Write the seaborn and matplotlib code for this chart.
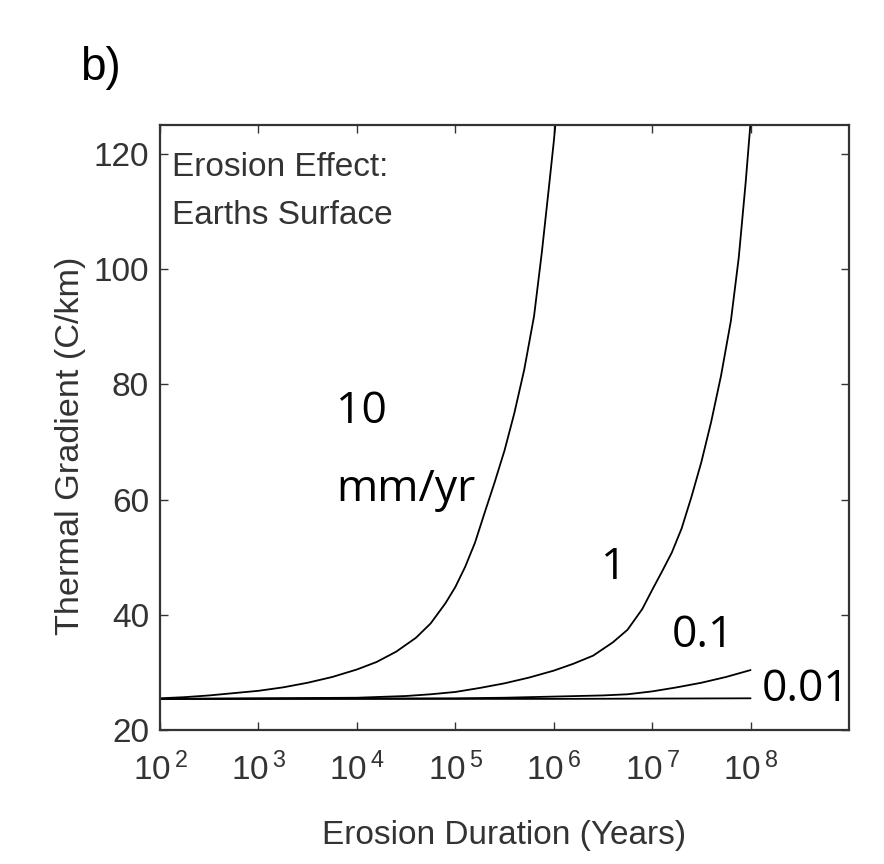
import numpy as np
import pandas as pd
import matplotlib
matplotlib.use("Agg")
import matplotlib.pyplot as plt
import seaborn as sns

# Erosion duration (log10 years) and thermal gradient (C/km) for each erosion rate
rate_10_logt = [2.0, 2.25, 2.5, 2.75, 3.0, 3.25, 3.5, 3.75, 4.0, 4.2, 4.4, 4.6, 4.75,
                4.9, 5.0, 5.1, 5.2, 5.3, 5.4, 5.5, 5.6, 5.7, 5.8, 5.88, 5.95, 6.0, 6.05]
rate_10_grad = [25.5, 25.7, 26.0, 26.4, 26.8, 27.4, 28.2, 29.2, 30.5, 31.8, 33.6, 36.0, 38.5,
                42.0, 44.8, 48.3, 52.5, 57.8, 63.0, 68.5, 75.0, 82.5, 91.8, 103.0, 114.0, 122.0, 131.0]

rate_1_logt = [2.0, 3.0, 4.0, 4.5, 4.75, 5.0, 5.25, 5.5, 5.75, 6.0, 6.2, 6.4, 6.6, 6.75,
               6.9, 7.0, 7.1, 7.2, 7.3, 7.4, 7.5, 7.6, 7.7, 7.8, 7.88, 7.95, 8.0]
rate_1_grad = [25.4, 25.5, 25.6, 25.9, 26.2, 26.6, 27.3, 28.1, 29.1, 30.3, 31.5, 32.9, 35.2, 37.4,
               41.0, 44.3, 47.5, 50.8, 55.0, 60.5, 66.5, 73.5, 81.5, 91.0, 102.0, 115.0, 125.5]

rate_01_logt = [2.0, 5.0, 5.5, 6.0, 6.25, 6.5, 6.75, 7.0, 7.25, 7.5, 7.75, 8.0]
rate_01_grad = [25.4, 25.5, 25.6, 25.8, 25.9, 26.0, 26.2, 26.7, 27.4, 28.2, 29.2, 30.4]

rate_001_logt = [2.0, 6.0, 8.0]
rate_001_grad = [25.4, 25.4, 25.5]

rate_labels = ["10", "1", "0.1", "0.01"]
y_ticks = [20, 40, 60, 80, 100, 120]
x_tick_exps = [2, 3, 4, 5, 6, 7, 8]

frames = []
for lab, lt, g in zip(rate_labels,
                      [rate_10_logt, rate_1_logt, rate_01_logt, rate_001_logt],
                      [rate_10_grad, rate_1_grad, rate_01_grad, rate_001_grad]):
    frames.append(pd.DataFrame({"years": 10.0 ** np.array(lt), "gradient": g, "rate": lab}))
df = pd.concat(frames, ignore_index=True)

sns.set_style("ticks")
plt.rcParams["font.family"] = ["Liberation Sans", "DejaVu Sans"]
plt.rcParams["mathtext.fontset"] = "custom"
plt.rcParams["mathtext.rm"] = "Liberation Sans"

fig = plt.figure(figsize=(8.84, 8.64), dpi=100)
fig.patch.set_facecolor("white")
ax = fig.add_axes([160 / 884, 1 - 730 / 864, (849 - 160) / 884, (730 - 125) / 864])

sns.lineplot(data=df, x="years", y="gradient", hue="rate", units="rate", estimator=None,
             palette={k: "black" for k in rate_labels}, legend=False, sort=False,
             linewidth=1.3, ax=ax)

ax.set_xscale("log")
ax.set_xlim(1e2, 1e9)
ax.set_ylim(20, 125)
ax.set_xticks([10.0 ** e for e in x_tick_exps])
ax.set_xticklabels([r"$\mathregular{10^{\,%d}}$" % e for e in x_tick_exps])
ax.xaxis.set_minor_locator(matplotlib.ticker.NullLocator())
ax.set_yticks(y_ticks)
ax.set_yticklabels([str(v) for v in y_ticks])

text_col = "#333333"
ax.tick_params(axis="both", which="major", direction="in", length=6, width=1.0,
               top=True, right=True, labelsize=24, colors=text_col)
ax.tick_params(axis="x", pad=16)
ax.tick_params(axis="y", pad=8)
for s in ax.spines.values():
    s.set_visible(True)
    s.set_linewidth(1.6)
    s.set_color("#333333")

ax.set_xlabel("Erosion Duration (Years)", fontsize=24, color=text_col, labelpad=24)
ax.set_ylabel("Thermal Gradient (C/km)", fontsize=24.7, color=text_col)
ax.yaxis.set_label_coords(-0.107, 0.469)

ax.text(0.017, 0.955, "Erosion Effect:\nEarths Surface", transform=ax.transAxes,
        ha="left", va="top", fontsize=24, color=text_col, linespacing=1.7)

ann = dict(color="black", family=["Open Sans", "DejaVu Sans"], fontsize=32, ha="left", va="center")
ax.text(6.2e3, 75.3, "10", **ann)
ax.text(6.2e3, 61.7, "mm/yr", **ann)
ax.text(3.0e6, 48.2, "1", **ann)
ax.text(1.6e7, 36.3, "0.1", **ann)
ax.text(1.3e8, 27.0, "0.01", **ann)

fig.text(80 / 884, 1 - 68 / 864, "b)", fontsize=33, ha="left", va="center", color="black")

fig.savefig("out.png", dpi=100)
